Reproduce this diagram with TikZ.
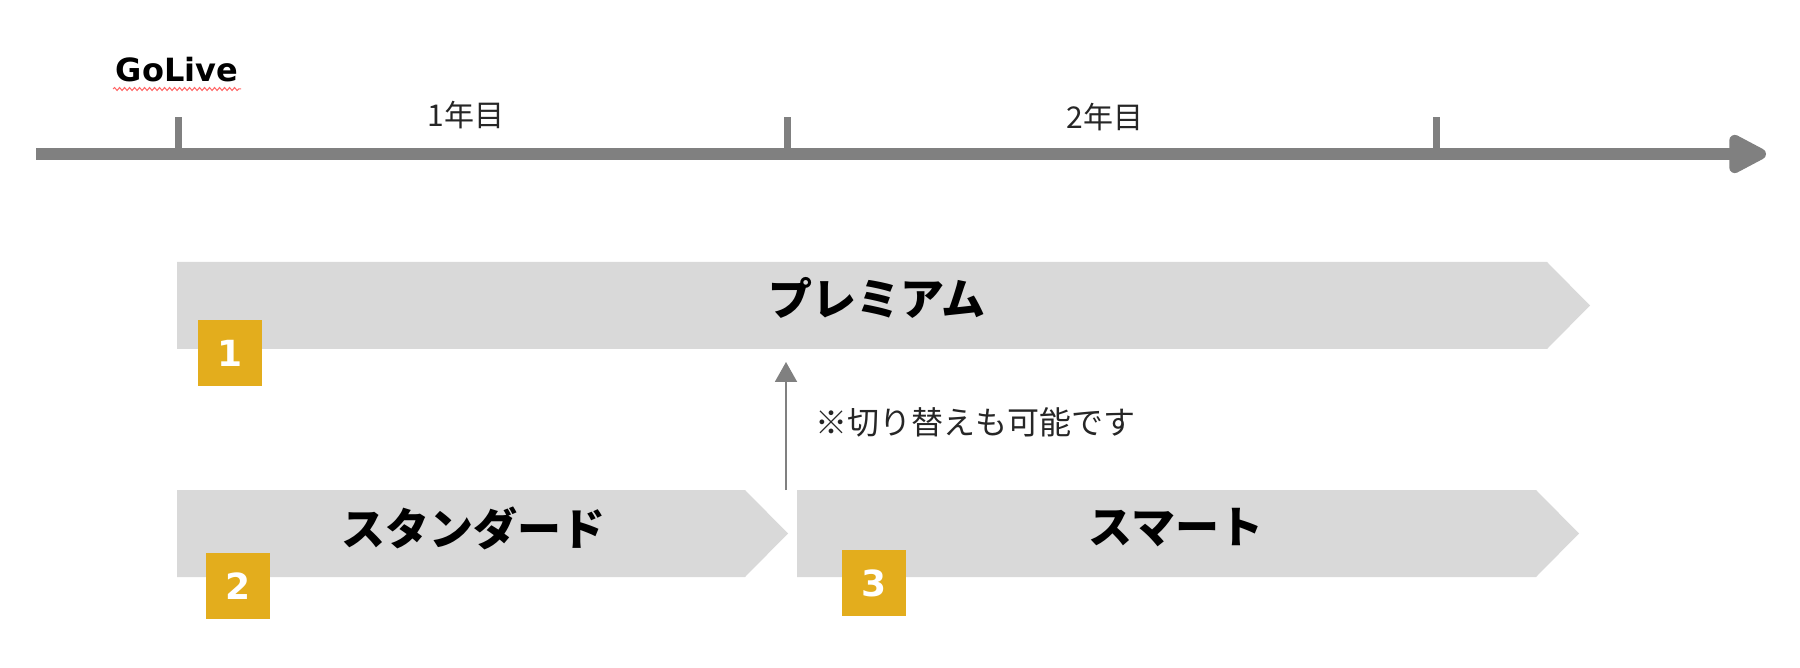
\documentclass[tikz,border=0pt]{standalone}
\usepackage{fontspec}
\setmainfont{DejaVu Sans}
\newfontfamily\jp{Noto Sans CJK JP}
\usetikzlibrary{arrows.meta,decorations.pathmorphing}
\definecolor{axisgray}{HTML}{808080}
\definecolor{bargray}{HTML}{D9D9D9}
\definecolor{badgegold}{HTML}{E3AD1D}
\tikzset{
  bar/.style={fill=bargray},
  plan/.style={font=\jp\bfseries\fontsize{44}{48}\selectfont, text=black},
  year/.style={font=\jp\fontsize{30}{34}\selectfont, text=black!85},
  note/.style={font=\jp\fontsize{32}{36}\selectfont, text=black!85},
  badge/.style={fill=badgegold, text=white, font=\bfseries\fontsize{36}{36}\selectfont,
    minimum width=64, minimum height=66, inner sep=0},
}
\begin{document}
\begin{tikzpicture}[x=1pt,y=-1pt]
\useasboundingbox (0,0) rectangle (1800,668);
\draw[axisgray, line width=12, -{Triangle[length=44,width=42,round]}] (36,154) -- (1766,154);
\foreach \x in {178,787,1436}
    \draw[axisgray, line width=7] (\x,154) -- (\x,117);
\node[font=\bfseries\fontsize{32}{36}\selectfont] (golive) at (177,70) {GoLive};
\draw[red!60, line width=1, decorate, decoration={snake, amplitude=1.5, segment length=5}] (113,89) -- (241,89);
\node[year] (y1) at (466,115) {1年目};
\node[year] (y2) at (1105,117) {2年目};
\fill[bar] (177,262) -- (1547,262) -- (1590,305.5) -- (1547,349) -- (177,349) -- cycle;
\fill[bar] (177,490) -- (745,490) -- (788,533.5) -- (745,577) -- (177,577) -- cycle;
\fill[bar] (797,490) -- (1536,490) -- (1579,533.5) -- (1536,577) -- (797,577) -- cycle;
\node[plan] (premium) at (877,298) {プレミアム};
\node[plan] (standard) at (473,528) {スタンダード};
\node[plan] (smart) at (1176,528) {スマート};
\node[badge] (b1) at (230,353) {1};
\node[badge] (b2) at (238,586) {2};
\node[badge] (b3) at (874,583) {3};
\coordinate (swfrom) at (786,490);
\coordinate (swto) at (786,362);
\draw[axisgray, line width=2, -{Triangle[length=20,width=22]}] (swfrom) -- (swto);
\node[note, anchor=west] (swnote) at (812,422) {※切り替えも可能です};
\end{tikzpicture}
\end{document}
